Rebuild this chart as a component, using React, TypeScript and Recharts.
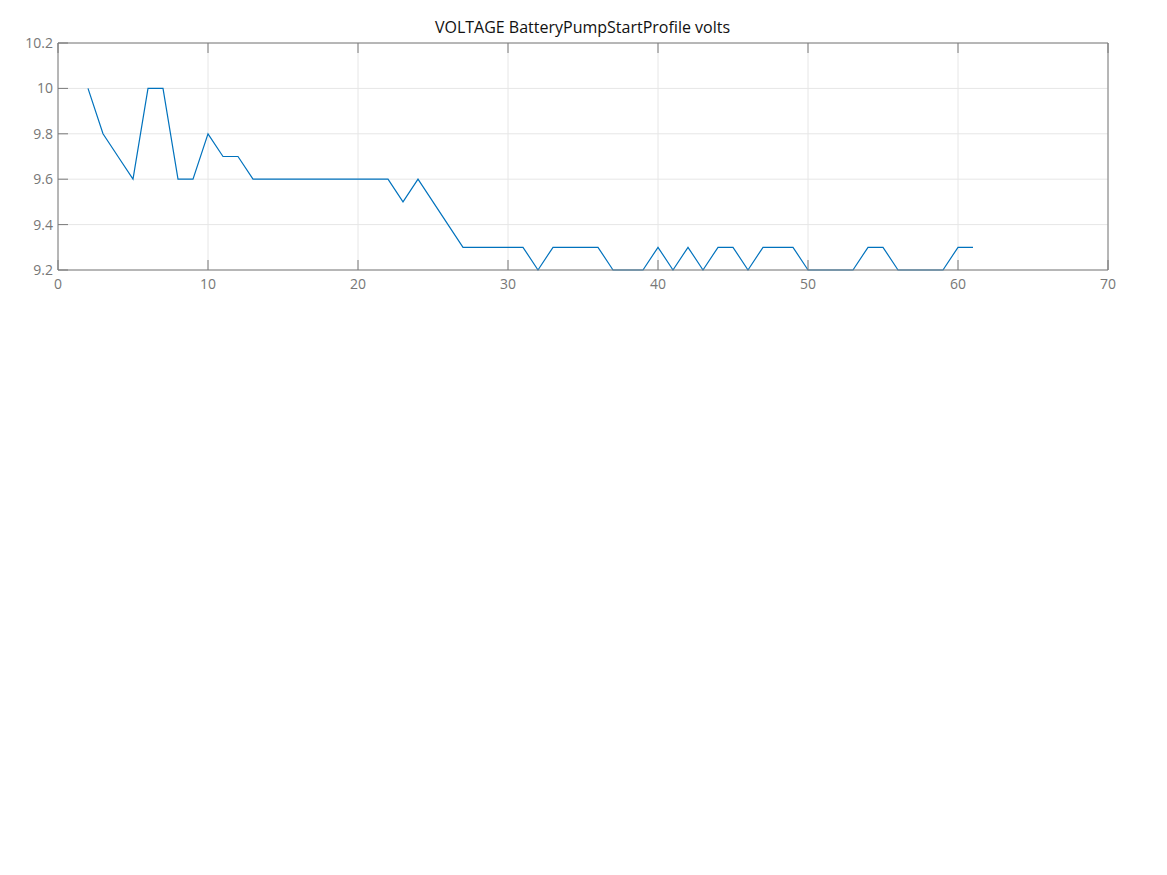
import React from "react";
import { LineChart, Line, XAxis, YAxis, CartesianGrid } from "recharts";

const steps = [2, 3, 4, 5, 6, 7, 8, 9, 10, 11, 12, 13, 14, 15, 16, 17, 18, 19, 20, 21, 22, 23, 24, 25, 26, 27, 28, 29, 30, 31, 32, 33, 34, 35, 36, 37, 38, 39, 40, 41, 42, 43, 44, 45, 46, 47, 48, 49, 50, 51, 52, 53, 54, 55, 56, 57, 58, 59, 60, 61];
const volts = [10, 9.8, 9.7, 9.6, 10, 10, 9.6, 9.6, 9.8, 9.7, 9.7, 9.6, 9.6, 9.6, 9.6, 9.6, 9.6, 9.6, 9.6, 9.6, 9.6, 9.5, 9.6, 9.5, 9.4, 9.3, 9.3, 9.3, 9.3, 9.3, 9.2, 9.3, 9.3, 9.3, 9.3, 9.2, 9.2, 9.2, 9.3, 9.2, 9.3, 9.2, 9.3, 9.3, 9.2, 9.3, 9.3, 9.3, 9.2, 9.2, 9.2, 9.2, 9.3, 9.3, 9.2, 9.2, 9.2, 9.2, 9.3, 9.3];
const xTicks = [0, 10, 20, 30, 40, 50, 60, 70];
const yTicks = [9.2, 9.4, 9.6, 9.8, 10, 10.2];

const title = "VOLTAGE BatteryPumpStartProfile volts";

const data = steps.map((s, i) => ({ step: s, volts: volts[i] }));

// plot box in page pixels
const PLOT_LEFT = 58;
const PLOT_TOP = 43;
const PLOT_RIGHT = 1108;
const PLOT_BOTTOM = 270;
const W = 1167;
const H = 310;

const AXIS = "#7a7a7a";
const TEXT = "#777777";
const FONT = "'Open Sans', sans-serif";
const TICK = 10;

const BottomTick = (props: any) => {
  const { x, payload } = props;
  return (
    <g>
      <line x1={x} x2={x} y1={PLOT_BOTTOM} y2={PLOT_BOTTOM - TICK} stroke={AXIS} />
      <text x={x} y={PLOT_BOTTOM + 19} textAnchor="middle" fill={TEXT} fontSize={14} fontFamily={FONT}>
        {payload.value}
      </text>
    </g>
  );
};

const TopTick = (props: any) => {
  const { x } = props;
  return <line x1={x} x2={x} y1={PLOT_TOP} y2={PLOT_TOP + TICK} stroke={AXIS} />;
};

const LeftTick = (props: any) => {
  const { y, payload } = props;
  return (
    <g>
      <line x1={PLOT_LEFT} x2={PLOT_LEFT + TICK} y1={y} y2={y} stroke={AXIS} />
      <text x={PLOT_LEFT - 5} y={y + 5} textAnchor="end" fill={TEXT} fontSize={14} fontFamily={FONT}>
        {payload.value}
      </text>
    </g>
  );
};

const RightTick = (props: any) => {
  const { y } = props;
  return <line x1={PLOT_RIGHT} x2={PLOT_RIGHT - TICK} y1={y} y2={y} stroke={AXIS} />;
};

export default function App() {
  return (
    <div style={{ position: "absolute", left: 0, top: 0, width: 1167, height: 875, background: "#fff" }}>
      <div
        style={{
          position: "absolute",
          left: 0,
          top: 16,
          width: 1165,
          textAlign: "center",
          fontFamily: FONT,
          fontSize: 16,
          color: "#111",
        }}
      >
        {title}
      </div>
      <LineChart
        width={W}
        height={H}
        data={data}
        margin={{ top: PLOT_TOP - 1, right: W - PLOT_RIGHT - 1, left: 0, bottom: H - PLOT_BOTTOM - 30 }}
      >
        <CartesianGrid stroke="#e6e6e6" horizontalValues={yTicks} verticalValues={xTicks} />
        <XAxis
          dataKey="step"
          type="number"
          domain={[0, 70]}
          ticks={xTicks}
          stroke={AXIS}
          tickLine={false}
          height={30}
          tick={<BottomTick />}
        />
        <XAxis
          xAxisId="top"
          dataKey="step"
          type="number"
          orientation="top"
          domain={[0, 70]}
          ticks={xTicks}
          stroke={AXIS}
          tickLine={false}
          height={1}
          tick={<TopTick />}
        />
        <YAxis
          type="number"
          domain={[9.2, 10.2]}
          ticks={yTicks}
          stroke={AXIS}
          tickLine={false}
          width={PLOT_LEFT}
          tick={<LeftTick />}
        />
        <YAxis
          yAxisId="right"
          orientation="right"
          type="number"
          domain={[9.2, 10.2]}
          ticks={yTicks}
          stroke={AXIS}
          tickLine={false}
          width={1}
          tick={<RightTick />}
        />
        <Line
          type="linear"
          dataKey="volts"
          stroke="#0072BD"
          strokeWidth={1.2}
          dot={false}
          isAnimationActive={false}
        />
      </LineChart>
    </div>
  );
}
